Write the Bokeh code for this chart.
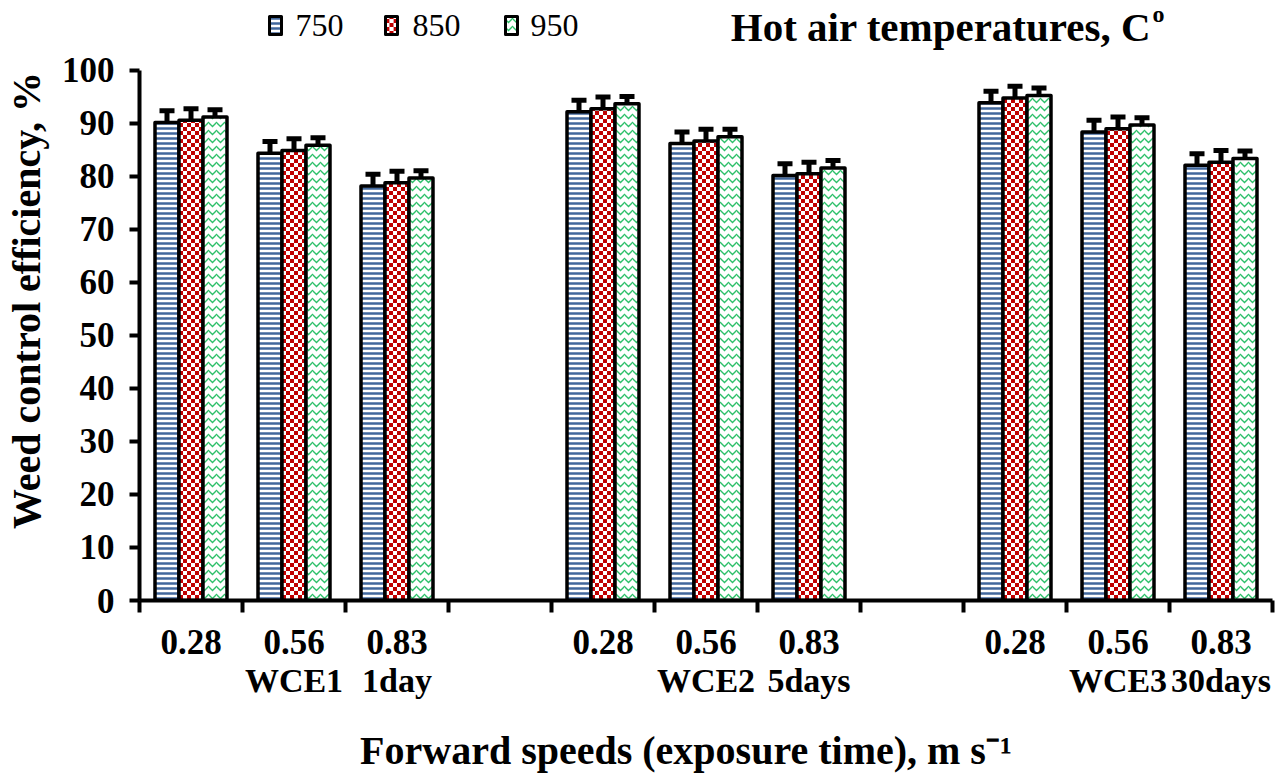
from bokeh.plotting import figure
from bokeh.models import (Range1d, FixedTicker, LinearAxis, Whisker, TeeHead,
                          ColumnDataSource, Label)
from bokeh.core.properties import value
from bokeh.embed import file_html
from bokeh.resources import INLINE

# ---------------- data ----------------
speeds = ["0.28", "0.56", "0.83"]
groups = ["WCE1", "WCE2", "WCE3"]
periods = ["1day", "5days", "30days"]
temps = ["750", "850", "950"]

t750 = [90.2, 84.4, 78.2, 92.2, 86.2, 80.2, 93.9, 88.4, 82.1]
t850 = [90.6, 84.9, 78.8, 92.8, 86.7, 80.5, 94.8, 89.0, 82.7]
t950 = [91.2, 85.9, 79.7, 93.7, 87.5, 81.6, 95.3, 89.7, 83.4]
e750 = [2.2, 2.2, 2.2, 2.2, 2.2, 2.2, 2.2, 2.2, 2.2]
e850 = [2.2, 2.2, 2.2, 2.2, 2.2, 2.2, 2.2, 2.2, 2.2]
e950 = [1.4, 1.4, 1.4, 1.4, 1.4, 1.4, 1.4, 1.4, 1.4]

FONT = "Liberation Serif"
BLUE = "#41679C"
RED = "#C00000"
GREEN = "#2EC06A"

# ---------------- layout ----------------
slot_index = []
for g in range(len(groups)):
    for k in range(len(speeds)):
        slot_index.append(g * (len(speeds) + 1) + k)
n_slots = len(groups) * (len(speeds) + 1) - 1
centers = [s + 0.5 for s in slot_index]

Y_MAX = 100
Y_TOP = 113.2          # headroom so legend / title sit inside the frame
FW, FH = 1133, 600     # frame size in px
LEFT = 135             # frame left edge on the page
PX_X = FW / n_slots    # px per x unit
PX_Y = FH / Y_TOP      # px per y unit


def dx(px):            # page px -> data x
    return (px - LEFT) / PX_X


def dy(py):            # page px -> data y
    return (FH - py) / PX_Y


p = figure(frame_width=FW, frame_height=FH, output_backend="svg", toolbar_location=None,
           x_range=Range1d(0, n_slots), y_range=Range1d(0, Y_TOP),
           min_border_left=LEFT, min_border_right=12, min_border_top=0, min_border_bottom=176,
           x_axis_type=None)
p.grid.visible = False
p.outline_line_color = None

bw = 0.233
NCOL = 6               # checker columns per red bar
OUT_W = 3.5

series = [t750, t850, t950]
errs = [e750, e850, e950]
sources = []
for i, (vals, err) in enumerate(zip(series, errs)):
    xs = [c + (i - 1) * bw for c in centers]
    sources.append(ColumnDataSource(dict(x=xs, top=vals,
                                         upper=[v + e for v, e in zip(vals, err)],
                                         lower=[v - e for v, e in zip(vals, err)])))

# 750: horizontal blue stripes
p.vbar(x="x", top="top", bottom=0, width=bw, source=sources[0], fill_color="white",
       hatch_pattern="-", hatch_color=BLUE, hatch_scale=5, hatch_weight=2.5,
       line_color="black", line_width=OUT_W, line_join="round")

# 850: red checkerboard, built from narrow columns with opposite stripe phase
cw = bw / NCOL
even_x, even_top, odd_x, odd_top = [], [], [], []
for xc, v in zip(sources[1].data["x"], t850):
    for k in range(NCOL):
        xk = xc - bw / 2 + (k + 0.5) * cw
        if k % 2 == 0:
            even_x.append(xk)
            even_top.append(v)
        else:
            odd_x.append(xk)
            odd_top.append(v)
p.vbar(x=even_x, top=even_top, bottom=0, width=cw, fill_color="white", line_color=None,
       hatch_pattern="-", hatch_color=RED, hatch_scale=8, hatch_weight=4)
p.vbar(x=odd_x, top=odd_top, bottom=0, width=cw, fill_color=RED, line_color=None,
       hatch_pattern="-", hatch_color="white", hatch_scale=8, hatch_weight=4)
p.vbar(x="x", top="top", bottom=0, width=bw, source=sources[1], fill_color=None,
       line_color="black", line_width=OUT_W, line_join="round")

# 950: green waves
p.vbar(x="x", top="top", bottom=0, width=bw, source=sources[2], fill_color="white",
       hatch_pattern="v", hatch_color=GREEN, hatch_scale=8, hatch_weight=1.3,
       line_color="black", line_width=OUT_W, line_join="round")

for src in sources:
    p.add_layout(Whisker(source=src, base="x", upper="upper", lower="lower", line_width=5,
                         line_color="black",
                         upper_head=TeeHead(size=15, line_width=5, line_color="black"),
                         lower_head=TeeHead(size=15, line_width=5, line_color="black")))

# ---------------- y axis ----------------
p.yaxis.ticker = FixedTicker(ticks=list(range(0, Y_MAX + 1, 10)))
p.yaxis.bounds = (0, Y_MAX)
p.yaxis.axis_label = "Weed control efficiency, %"
p.yaxis.axis_label_text_font = FONT
p.yaxis.axis_label_text_font_style = "bold"
p.yaxis.axis_label_text_font_size = "40px"
p.yaxis.axis_label_standoff = 10
p.yaxis.axis_label_text_color = "black"
p.yaxis.major_label_text_font = FONT
p.yaxis.major_label_text_font_style = "bold"
p.yaxis.major_label_text_font_size = "35px"
p.yaxis.major_label_text_color = "black"
p.yaxis.major_label_standoff = 15
p.yaxis.axis_line_width = 4
p.yaxis.major_tick_line_width = 4
p.yaxis.major_tick_out = 10
p.yaxis.major_tick_in = 0
p.yaxis.minor_tick_line_color = None

# ---------------- x axis, line 1 ----------------
ax1 = LinearAxis(ticker=FixedTicker(ticks=centers, minor_ticks=list(range(0, n_slots + 1))),
                 major_label_overrides={c: speeds[i % len(speeds)] for i, c in enumerate(centers)})
ax1.axis_line_width = 4
ax1.major_tick_line_color = None
ax1.major_tick_out = 0
ax1.major_tick_in = 0
ax1.minor_tick_line_width = 4
ax1.minor_tick_out = 12
ax1.minor_tick_in = 0
ax1.major_label_text_font = FONT
ax1.major_label_text_font_style = "bold"
ax1.major_label_text_font_size = "35px"
ax1.major_label_text_color = "black"
ax1.major_label_standoff = 17
p.add_layout(ax1, "below")

# ---------------- x axis, line 2 ----------------
line2 = {}
for g in range(len(groups)):
    line2[centers[g * len(speeds) + 1]] = groups[g]
    line2[centers[g * len(speeds) + 2]] = periods[g]
ax2 = LinearAxis(ticker=FixedTicker(ticks=list(line2.keys()), minor_ticks=[]),
                 major_label_overrides=line2)
ax2.axis_line_color = None
ax2.major_tick_line_color = None
ax2.minor_tick_line_color = None
ax2.major_tick_out = 0
ax2.major_tick_in = 0
ax2.minor_tick_out = 0
ax2.major_label_text_font = FONT
ax2.major_label_text_font_style = "bold"
ax2.major_label_text_font_size = "34px"
ax2.major_label_text_color = "black"
ax2.major_label_standoff = 5
ax2.axis_label = "Forward speeds (exposure time), m s\u207b\u00b9\u2002\u2002"
ax2.axis_label_text_font = FONT
ax2.axis_label_text_font_style = "bold"
ax2.axis_label_text_font_size = "40px"
ax2.axis_label_text_color = "black"
ax2.axis_label_standoff = 26
p.add_layout(ax2, "below")

# ---------------- legend (drawn by hand in the headroom) ----------------
leg_glyph_px = [271, 387, 507]
leg_text_px = [291, 408, 526]
leg_y = dy(25)
GW, GH = 12, 18
p.rect(x=[dx(leg_glyph_px[0])], y=[leg_y], width=GW, height=GH, width_units="screen",
       height_units="screen", fill_color="white", hatch_pattern="-", hatch_color=BLUE,
       hatch_scale=5, hatch_weight=2.5, line_color=None)
col_px = GW / 3
lx_even = [dx(leg_glyph_px[1] - col_px), dx(leg_glyph_px[1] + col_px)]
p.rect(x=lx_even, y=[leg_y] * 2, width=col_px, height=GH, width_units="screen",
       height_units="screen", fill_color="white", hatch_pattern="-", hatch_color=RED,
       hatch_scale=8, hatch_weight=4, line_color=None)
p.rect(x=[dx(leg_glyph_px[1])], y=[leg_y], width=col_px, height=GH, width_units="screen",
       height_units="screen", fill_color=RED, hatch_pattern="-", hatch_color="white",
       hatch_scale=8, hatch_weight=4, line_color=None)
p.rect(x=[dx(leg_glyph_px[2])], y=[leg_y], width=GW, height=GH, width_units="screen",
       height_units="screen", fill_color="white", hatch_pattern="v", hatch_color=GREEN,
       hatch_scale=8, hatch_weight=1.3, line_color=None)
p.rect(x=[dx(v) for v in leg_glyph_px], y=[leg_y] * 3, width=GW, height=GH,
       width_units="screen", height_units="screen", fill_color=None,
       line_color="black", line_width=3, line_join="round")
p.text(x=[dx(v) for v in leg_text_px], y=[leg_y] * 3, text=temps,
       text_font=value(FONT), text_font_size="32px", text_color="black",
       text_baseline="middle", text_align="left")

# ---------------- title ----------------
p.add_layout(Label(x=1022, y=574, x_units="screen", y_units="screen",
                   text="Hot air temperatures,  C", text_align="right",
                   text_baseline="alphabetic", text_font=FONT, text_font_style="bold",
                   text_font_size="41px", text_color="black"))
p.add_layout(Label(x=1013, y=587, x_units="screen", y_units="screen",
                   text="o", text_align="left", text_baseline="alphabetic",
                   text_font=FONT, text_font_style="bold", text_font_size="24px",
                   text_color="black"))

open("out.html", "w").write(file_html(p, INLINE))
